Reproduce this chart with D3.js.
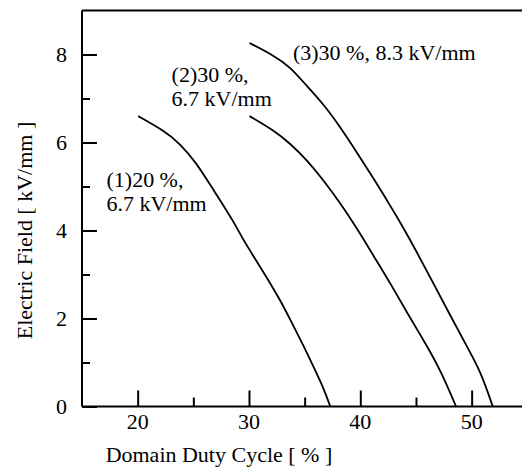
<!DOCTYPE html>
<html>
<head>
<meta charset="utf-8">
<script src="https://cdn.jsdelivr.net/npm/d3@7"></script>
<style>
  body { margin: 0; background: #fff; }
</style>
</head>
<body>
<div id="chart"></div>
<script>
// values (duty cycle in %, field in kV/mm)
var duty1  = [20.05, 22.3, 23.8, 25.3, 26.2, 26.8, 27.4, 28.6, 29.5, 30.4, 31.6, 32.8, 33.7, 34.9, 35.8, 36.7, 37.3];
var field1 = [6.60, 6.28, 5.98, 5.52, 5.16, 4.93, 4.69, 4.21, 3.78, 3.42, 2.93, 2.42, 1.98, 1.38, 0.90, 0.42, 0];

var duty2  = [30.05, 32.2, 33.7, 35.2, 36.7, 38.2, 39.7, 41.2, 42.7, 44.2, 45.7, 47.2, 48.6];
var field2 = [6.60, 6.28, 5.98, 5.60, 5.14, 4.62, 4.05, 3.42, 2.80, 2.13, 1.50, 0.83, 0];

var duty3  = [30.05, 32.2, 33.7, 35.2, 36.7, 38.2, 39.7, 41.2, 42.7, 43.6, 45.1, 46.6, 48.1, 49.6, 50.8, 51.9];
var field3 = [8.26, 7.98, 7.72, 7.28, 6.87, 6.35, 5.77, 5.18, 4.56, 4.18, 3.50, 2.78, 2.06, 1.35, 0.80, 0];

var labels = [
    { lines: ["(1)20 %,", "6.7 kV/mm"], x: 17.2, y: 5.0 },
    { lines: ["(2)30 %,", "6.7 kV/mm"], x: 23.05, y: 7.38 },
    { lines: ["(3)30 %, 8.3 kV/mm"], x: 33.95, y: 7.87 }
];

var xMajor = [20, 30, 40, 50];
var xMinor = [25, 35, 45];
var yMajor = [0, 2, 4, 6, 8];
var yMinor = [1, 3, 5, 7];

var FONT = '"Liberation Serif", "DejaVu Serif", "Times New Roman", Times, serif';

drawChart();

function drawChart() {
    var W = 522, H = 474;
    var margin = { top: 10.5, left: 82 };
    var width = 445.3, height = 396;
    var fs = 20, stretch = 1.1;

    var svg = d3.select("#chart").append("svg")
        .attr("width", W)
        .attr("height", H)
        .style("font-family", FONT);

    var g = svg.append("g")
        .attr("transform", "translate(" + margin.left + "," + margin.top + ")");

    var xScale = d3.scaleLinear().domain([15, 55]).range([0, width]);
    var yScale = d3.scaleLinear().domain([0, 9]).range([height, 0]);

    // frame (top edge + left/bottom axes)
    g.append("line")
        .attr("x1", 0).attr("x2", width)
        .attr("y1", 0).attr("y2", 0)
        .style("stroke", "#000").style("stroke-width", 2);
    g.append("line")
        .attr("x1", 0).attr("x2", 0)
        .attr("y1", 0).attr("y2", height)
        .style("stroke", "#000").style("stroke-width", 2);
    g.append("line")
        .attr("x1", 0).attr("x2", width)
        .attr("y1", height).attr("y2", height)
        .style("stroke", "#000").style("stroke-width", 2);

    // ticks pointing inward
    function ticks(axis, shift) {
        var a = g.append("g").attr("transform", shift).call(axis);
        a.select(".domain").remove();
        a.selectAll("line").style("stroke", "#000").style("stroke-width", 2);
    }
    ticks(d3.axisTop(xScale).tickValues(xMajor).tickSize(16).tickFormat(""), "translate(0," + height + ")");
    ticks(d3.axisTop(xScale).tickValues(xMinor).tickSize(9).tickFormat(""), "translate(0," + height + ")");
    ticks(d3.axisRight(yScale).tickValues(yMajor).tickSize(15).tickFormat(""), null);
    ticks(d3.axisRight(yScale).tickValues(yMinor).tickSize(8).tickFormat(""), null);

    // tick labels
    g.selectAll(".xlab").data(xMajor).enter().append("text")
        .attr("transform", function(d) { return "translate(" + xScale(d) + "," + (height + 22) + ") scale(" + stretch + ",1)"; })
        .attr("text-anchor", "middle")
        .style("font-family", FONT)
        .style("font-size", fs + "px")
        .text(function(d) { return d; });
    g.selectAll(".ylab").data(yMajor).enter().append("text")
        .attr("transform", function(d) { return "translate(-15," + (yScale(d) + 7) + ") scale(" + stretch + ",1)"; })
        .attr("text-anchor", "end")
        .style("font-family", FONT)
        .style("font-size", fs + "px")
        .text(function(d) { return d; });

    // axis titles
    g.append("text")
        .attr("transform", "translate(" + xScale(27.3) + "," + (height + 55) + ") scale(" + stretch + ",1)")
        .attr("text-anchor", "middle")
        .style("font-family", FONT)
        .style("font-size", fs + "px")
        .text("Domain Duty Cycle [ % ]");
    g.append("text")
        .attr("transform", "translate(-50," + yScale(4.0) + ") rotate(-90) scale(" + stretch + ",1)")
        .attr("text-anchor", "middle")
        .style("font-family", FONT)
        .style("font-size", fs + "px")
        .text("Electric Field [ kV/mm ]");

    // curves
    var line = d3.line()
        .x(function(d) { return xScale(d[0]); })
        .y(function(d) { return yScale(d[1]); })
        .curve(d3.curveBasis);

    [[duty1, field1], [duty2, field2], [duty3, field3]].forEach(function(s) {
        g.append("path")
            .datum(d3.zip(s[0], s[1]))
            .attr("d", line)
            .style("fill", "none")
            .style("stroke", "#000")
            .style("stroke-width", 1.8);
    });

    // curve annotations
    labels.forEach(function(l) {
        l.lines.forEach(function(t, i) {
            g.append("text")
                .attr("transform", "translate(" + xScale(l.x) + "," + (yScale(l.y) + i * 24) + ") scale(" + stretch + ",1)")
                .style("font-family", FONT)
                .style("font-size", fs + "px")
                .text(t);
        });
    });
}
</script>
</body>
</html>
